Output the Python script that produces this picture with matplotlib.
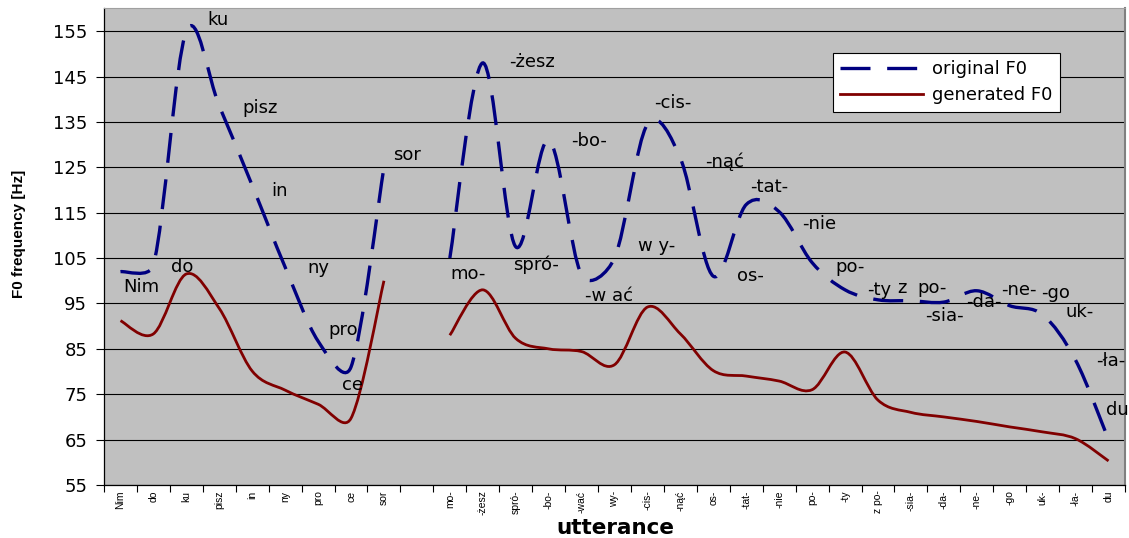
import numpy as np
import matplotlib
matplotlib.use("Agg")
import matplotlib.pyplot as plt
from matplotlib.path import Path
from matplotlib.patches import PathPatch
from matplotlib.lines import Line2D

plt.rcParams['font.family'] = ['DejaVu Sans']

# syllable categories on the x axis (slot 9 is an empty pause)
categories = ["Nim", "do", "ku", "pisz", "in", "ny", "pro", "ce", "sor", "",
              "mo-", "-żesz", "spró-", "-bo-", "-wać", "wy-", "-cis-", "-nąć",
              "os-", "-tat-", "-nie", "po-", "-ty", "z po-", "-sia-", "-da-",
              "-ne-", "-go", "uk-", "-ła-", "du"]

nan = np.nan
original_f0 = [102, 103.5, 155, 138.5, 121, 103, 86.7, 81, 125, nan,
               105, 148, 107.5, 131, 101.3, 105, 134.5, 127,
               101, 116.8, 115.2, 104, 98, 95.8, 95.6, 95.3,
               97.8, 94.5, 92.5, 82.5, 65]
generated_f0 = [91.2, 88.3, 101.5, 93.9, 80.1, 75.9, 72.8, 69.7, 100, nan,
                88, 98, 87.3, 85, 84.4, 81.5, 94.2, 88.3,
                80.2, 79, 77.9, 76, 84.3, 73.7, 71, 70,
                69, 67.8, 66.7, 65.2, 60.3]

yticks = list(range(55, 156, 10))

# syllable labels written inside the plot: (text, x, y, ha)
syllable_notes = [
    ("Nim", 0.63, 97.5, "center"), ("do", 1.86, 101.9, "center"),
    ("ku", 2.97, 156.3, "center"), ("pisz", 4.24, 136.9, "center"),
    ("in", 4.84, 118.7, "center"), ("ny", 6.01, 101.7, "center"),
    ("pro", 6.77, 88.0, "center"), ("ce", 7.05, 75.9, "center"),
    ("sor", 8.71, 126.6, "center"), ("mo-", 10.56, 100.3, "center"),
    ("-żesz", 12.48, 147.0, "center"), ("spró-", 12.63, 102.4, "center"),
    ("-bo-", 14.24, 129.7, "center"), ("-w ać", 14.82, 95.6, "center"),
    ("w y-", 16.28, 106.6, "center"), ("-cis-", 16.78, 138.0, "center"),
    ("-nąć", 18.35, 125.1, "center"), ("os-", 19.12, 99.9, "center"),
    ("-tat-", 19.70, 119.6, "center"), ("-nie", 21.20, 111.5, "center"),
    ("po-", 22.16, 102.0, "center"), ("-ty", 23.04, 96.9, "center"),
    ("z", 23.73, 97.4, "center"), ("po-", 24.65, 97.4, "center"),
    ("-sia-", 25.02, 91.2, "center"), ("-da-", 26.23, 94.3, "center"),
    ("-ne-", 27.28, 96.9, "center"), ("-go", 28.38, 96.3, "center"),
    ("uk-", 29.11, 92.1, "center"), ("-ła-", 29.63, 81.3, "left"),
    ("du", 29.93, 70.4, "left"),
]

BLUE = "#000080"
RED = "#800000"


def smooth_patch(ax, xs, ys, clamp=0.45, **kw):
    # Excel-like smoothed line: Catmull-Rom Bezier handles (1/6 of the
    # neighbour chord), shortened on screen so short segments don't overshoot
    T = ax.transData
    verts, codes = [], []
    runs, run = [], []
    for x, y in zip(xs, ys):
        if np.isnan(y):
            if run:
                runs.append(run)
            run = []
        else:
            run.append((x, y))
    if run:
        runs.append(run)
    for run in runs:
        P = T.transform(np.array(run, dtype=float))
        n = len(P)
        h = []
        for i in range(n):
            lo, hi = max(i - 1, 0), min(i + 1, n - 1)
            h.append((P[hi] - P[lo]) / 6)
        verts.append(P[0]); codes.append(Path.MOVETO)
        for i in range(n - 1):
            L = np.hypot(*(P[i + 1] - P[i]))
            a, b = h[i], h[i + 1]
            la, lb = np.hypot(*a), np.hypot(*b)
            if la > clamp * L:
                a = a * clamp * L / la
            if lb > clamp * L:
                b = b * clamp * L / lb
            verts += [P[i] + a, P[i + 1] - b, P[i + 1]]
            codes += [Path.CURVE4] * 3
    verts = T.inverted().transform(np.array(verts))
    patch = PathPatch(Path(verts, codes), fill=False, **kw)
    ax.add_patch(patch)
    return patch


fig = plt.figure(figsize=(11.29, 5.38), dpi=100)
ax = fig.add_axes([104 / 1129, 1 - 485 / 538, 1021 / 1129, 477 / 538])
ax.set_facecolor("#c0c0c0")
x = np.arange(len(categories))
ax.set_xlim(-0.5, len(categories) - 0.5)
ax.set_ylim(55, 160.1)

ax.set_yticks(yticks)
ax.set_yticklabels([str(t) for t in yticks], fontsize=13)
ax.yaxis.grid(True, color="black", lw=0.8)
ax.set_axisbelow(True)
ax.tick_params(axis="y", direction="out", length=6, width=0.8, pad=6)

ax.set_xticks(x)
ax.set_xticklabels(categories, rotation=90, fontsize=7.5, family="Liberation Sans")
ax.set_xticks(np.arange(-0.5, len(categories), 1), minor=True)
ax.tick_params(axis="x", which="major", length=0, pad=4)
ax.tick_params(axis="x", which="minor", direction="out", length=5, width=0.8)

ax.spines["top"].set_color("#a0a0a0")
ax.spines["top"].set_linewidth(0.8)
ax.spines["right"].set_color("#808080")
ax.spines["right"].set_linewidth(1.5)
for s in ("left", "bottom"):
    ax.spines[s].set_color("black")
    ax.spines[s].set_linewidth(0.9)

dash = (0, (9, 5))
smooth_patch(ax, x, original_f0, edgecolor=BLUE, lw=2.4, linestyle=dash, capstyle="butt")
smooth_patch(ax, x, generated_f0, edgecolor=RED, lw=2.0)

for txt, tx, ty, ha in syllable_notes:
    ax.text(tx, ty, txt, ha=ha, va="baseline", fontsize=13, color="black")

fig.text(19 / 1129, 1 - 234 / 538, "F0 frequency [Hz]", rotation=90,
         ha="center", va="center", fontsize=11, fontweight="bold",
         family="Liberation Sans")
fig.text(615 / 1129, 1 - 528 / 538, "utterance", ha="center", va="center",
         fontsize=15.5, fontweight="bold")

handles = [Line2D([], [], color=BLUE, lw=2.4, linestyle=dash, dash_capstyle="butt"),
           Line2D([], [], color=RED, lw=2.0)]
leg = ax.legend(handles, ["original F0", "generated F0"], loc="upper left",
                bbox_to_anchor=(833 / 1129, 1 - 53 / 538), bbox_transform=fig.transFigure,
                fontsize=13, handlelength=4.6, handletextpad=0.5, labelspacing=0.45,
                borderpad=0.4, borderaxespad=0, fancybox=False, framealpha=1,
                edgecolor="black")
leg.get_frame().set_linewidth(0.8)

fig.savefig("out.png", dpi=100)
